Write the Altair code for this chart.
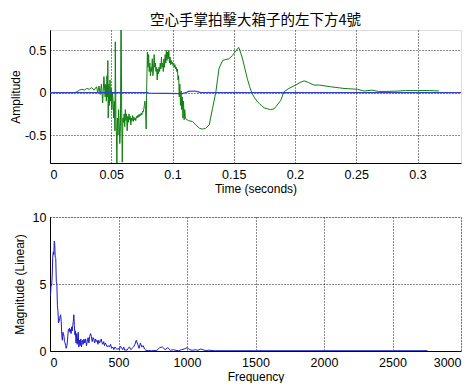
import altair as alt
import pandas as pd

# ---- time-domain signal (green) ----
green_t = [0, 0.02, 0.022, 0.024, 0.026, 0.028, 0.03, 0.032, 0.034, 0.036, 0.038, 0.039, 0.040, 0.041, 0.042, 0.043, 0.044, 0.045,
           0.0455, 0.046, 0.0465, 0.047, 0.0472, 0.0475, 0.048, 0.0485, 0.049, 0.0495, 0.050, 0.0505, 0.051, 0.0515, 0.052, 0.0525,
           0.053, 0.0533, 0.0538, 0.0542, 0.0546, 0.055, 0.0555, 0.056, 0.0565, 0.057, 0.0575, 0.058, 0.0585, 0.059, 0.0595, 0.06,
           0.0605, 0.061, 0.0615, 0.062, 0.0625, 0.063, 0.0635, 0.064, 0.0645, 0.065, 0.0655, 0.066, 0.0665, 0.067, 0.0675, 0.068,
           0.0685, 0.069, 0.0695, 0.07, 0.0705, 0.071, 0.0715, 0.072, 0.0725, 0.073, 0.0735, 0.074, 0.0745, 0.075, 0.0755, 0.076,
           0.0765, 0.077, 0.0775, 0.078, 0.0785, 0.079, 0.0795,
           0.08, 0.0805, 0.081, 0.0815, 0.082, 0.0825, 0.083, 0.0835, 0.084, 0.0845, 0.085, 0.0855, 0.086, 0.0865, 0.087, 0.0875,
           0.088, 0.0885, 0.089, 0.0895, 0.09, 0.0905, 0.091, 0.0915, 0.092, 0.0925, 0.093, 0.0935, 0.094, 0.0945, 0.095, 0.0955,
           0.096, 0.0965, 0.097, 0.0975, 0.098, 0.0985, 0.099, 0.0995, 0.1, 0.1005, 0.101, 0.1015, 0.102, 0.1025, 0.103, 0.1035,
           0.104, 0.1045, 0.105, 0.1055, 0.106, 0.1065, 0.107, 0.1075, 0.108, 0.1085, 0.109, 0.1095, 0.11, 0.1105,
           0.111, 0.113, 0.1163, 0.119, 0.122, 0.1245, 0.127, 0.13, 0.1326, 0.1354, 0.138, 0.141, 0.143, 0.146, 0.149, 0.151,
           0.154, 0.155, 0.157, 0.159, 0.161, 0.163, 0.165, 0.167, 0.169, 0.171, 0.173, 0.175, 0.1775, 0.18, 0.183, 0.1884,
           0.191, 0.195, 0.2006, 0.204, 0.2074, 0.211, 0.2156, 0.22, 0.229, 0.24, 0.251, 0.2563, 0.263, 0.268, 0.275, 0.285,
           0.29, 0.3, 0.31, 0.3175]
green_a = [0, 0, 0.01, 0.03, 0.04, 0.03, 0.05, 0.04, 0.06, 0.03, 0.07, 0.0, 0.08, -0.02, 0.1, -0.12, 0.19, -0.05,
           0.1, -0.1, 0.2, -0.05, 0.38, -0.3, 0.1, -0.15, 0.15, -0.1, 0.05, -0.2, 0.0, -0.1, -0.3, -0.1,
           -0.45, 0.6, -0.3, -0.5, -0.85, -0.3, -0.5, -0.2, -0.35, -0.6, -0.4, 1.0, -0.2, -0.82, -0.3, -0.35,
           -0.25, -0.4, -0.2, -0.33, -0.25, -0.45, -0.28, -0.35, -0.25, -0.32, -0.28, -0.38, -0.3, -0.33, -0.27, -0.34,
           -0.29, -0.32, -0.3, -0.33, -0.28, -0.3, -0.27, -0.29, -0.26, -0.28, -0.25, -0.27, -0.24, -0.26, -0.22, -0.23,
           -0.2, -0.15, -0.1, -0.2, -0.43, 0.1, 0.48,
           0.3, 0.45, 0.25, 0.35, 0.2, 0.3, 0.25, 0.4, 0.2, 0.28, 0.45, 0.3, 0.35, 0.25, 0.3, 0.15,
           0.28, 0.22, 0.3, 0.25, 0.35, 0.28, 0.42, 0.3, 0.35, 0.25, 0.4, 0.3, 0.45, 0.35, 0.5, 0.38,
           0.48, 0.4, 0.5, 0.35, 0.42, 0.33, 0.38, 0.34, 0.36, 0.32, 0.35, 0.3, 0.33, 0.28, 0.3, 0.25,
           0.28, 0.15, 0.2, -0.05, 0.1, -0.15, 0.02, -0.2, -0.05, -0.3, -0.1, -0.32, -0.2, -0.3,
           -0.31, -0.33, -0.34, -0.38, -0.42, -0.43, -0.42, -0.38, -0.19, 0.01, 0.29, 0.38, 0.39, 0.40, 0.44, 0.48,
           0.535, 0.5, 0.41, 0.29, 0.17, 0.07, -0.01, -0.06, -0.1, -0.13, -0.16, -0.18, -0.19, -0.2, -0.19, -0.09,
           0.01, 0.05, 0.09, 0.12, 0.14, 0.12, 0.09, 0.09, 0.07, 0.05, 0.04, 0.02, 0.03, 0.015, 0.015, 0.02,
           0.025, 0.025, 0.025, 0.02]

# ---- time-domain signal (blue) ----
blue_t = [0, 0.08, 0.0805, 0.108, 0.111, 0.113, 0.118, 0.121, 0.123, 0.3355]
blue_a = [0, 0, -0.005, -0.01, 0.0, 0.015, 0.02, 0.01, 0.0, 0.0]

# ---- spectrum ----
freq = [0, 4, 8, 12, 16, 20, 24, 28, 31, 34, 38, 42, 46, 50, 54, 58, 62, 66, 70, 74, 78, 82, 86, 90, 94, 98, 102, 106,
        110, 114, 118, 122, 126, 130, 134, 138, 142, 146, 150, 154, 158, 162, 166, 170, 174, 178, 182, 186, 190, 194,
        198, 202, 206, 210, 215, 220, 225, 230, 236, 242, 248, 254, 260, 266, 272, 278, 284, 290, 296, 302, 308, 314,
        320, 326, 332, 338, 344, 350, 356, 362, 368, 374, 380, 386, 392, 398, 404, 410, 418, 426, 434, 442, 450, 458,
        466, 474, 482, 490, 498, 506, 514, 522, 530, 538, 546, 554, 562, 570, 580, 590, 600, 610, 620, 630, 640, 650,
        660, 670, 680, 690, 700, 720, 740, 760, 780, 800, 820, 840, 860, 880, 900, 920, 940, 960, 980, 1000, 1020,
        1040, 1060, 1080, 1100, 1120, 1140, 1160, 1200, 1300, 1500, 2000, 2500, 2756]
mag = [4.1, 4.2, 5.0, 4.9, 5.6, 7.0, 7.4, 7.2, 8.2, 8.1, 7.0, 6.9, 5.2, 5.0, 3.4, 3.0, 2.1, 2.2, 2.4, 2.6, 2.7, 2.2, 1.2,
       0.8, 1.4, 1.3, 1.1, 0.7, 0.6, 0.4, 0.2, 0.3, 0.6, 1.1, 1.6, 1.5, 1.7, 1.4, 1.6, 1.3, 1.8, 1.5, 1.9, 2.2, 2.7,
       1.9, 1.2, 1.5, 0.6, 1.3, 0.5, 1.0, 1.4, 0.3, 0.8, 0.4, 0.9, 0.3, 0.8, 0.5, 0.9, 0.6, 0.9, 0.4, 0.7, 1.0, 0.6,
       1.1, 1.3, 1.1, 0.7, 1.0, 0.9, 0.6, 0.9, 0.7, 0.8, 0.5, 0.8, 0.6, 0.7, 0.9, 0.6, 0.5, 0.7, 0.4, 0.6, 0.5, 0.3,
       0.4, 0.3, 0.5, 0.2, 0.3, 0.1, 0.3, 0.2, 0.1, 0.2, 0.1, 0.35, 0.25, 0.1, 0.3, 0.05, 0.1, 0.05, 0.2, 0.3, 0.1,
       0.2, 0.3, 0.5, 0.8, 0.5, 0.2, 0.6, 0.3, 0.4, 0.15, 0.05, 0.03, 0.02, 0.03, 0.05, 0.25, 0.3, 0.1, 0.25, 0.05,
       0.1, 0.05, 0.02, 0.1, 0.15, 0.25, 0.1, 0.05, 0.1, 0.05, 0.15, 0.08, 0.03, 0.06, 0.02, 0.02, 0.02, 0.02, 0.02,
       0.02]

time_ticks = [0, 0.05, 0.1, 0.15, 0.2, 0.25, 0.3]
amp_ticks = [-0.5, 0, 0.5]
freq_ticks = [0, 500, 1000, 1500, 2000, 2500, 3000]
mag_ticks = [0, 5, 10]

title_text = "空心手掌拍擊大箱子的左下方4號"

df_g = pd.DataFrame({"t": green_t, "a": green_a})
df_b = pd.DataFrame({"t": blue_t, "a": blue_a})
df_f = pd.DataFrame({"f": freq, "m": mag})

FONT = "Liberation Sans"
W = 411

def ax(values, title, lpad, tpad):
    return alt.Axis(values=values, title=title, grid=True, gridDash=[1, 2], gridColor="black",
                    gridOpacity=0.9, ticks=False, labelExpr="'' + datum.value",
                    labelFont=FONT, labelFontSize=12.5, titleFont=FONT, titleFontSize=12,
                    titleFontWeight="normal", labelColor="black", titleColor="black",
                    domainColor="black", labelPadding=lpad, titlePadding=tpad)

xs_t = alt.X("t:Q", scale=alt.Scale(domain=[0, 0.3355], nice=False, zero=False),
             axis=ax(time_ticks, "Time (seconds)", 5, 3))
ys_t = alt.Y("a:Q", scale=alt.Scale(domain=[-0.83, 0.74], nice=False, zero=False),
             axis=ax(amp_ticks, "Amplitude", 4, 2))

g_line = alt.Chart(df_g).mark_line(color="#0f7f0f", strokeWidth=1, clip=True).encode(x=xs_t, y=ys_t)
b_line = alt.Chart(df_b).mark_line(color="#3040d0", strokeWidth=1.2, clip=True).encode(x=xs_t, y=ys_t)

top = alt.layer(g_line, b_line).properties(
    width=W, height=133,
    title=alt.TitleParams(title_text, font="Noto Sans CJK TC", fontSize=14.5, fontWeight="normal",
                          color="black", anchor="middle", offset=2))

xs_f = alt.X("f:Q", scale=alt.Scale(domain=[0, 3000], nice=False),
             axis=ax(freq_ticks, "Frequency", 5, 3))
ys_f = alt.Y("m:Q", scale=alt.Scale(domain=[0, 10], nice=False),
             axis=ax(mag_ticks, "Magnitude (Linear)", 4, 6))

bottom = alt.Chart(df_f).mark_line(color="#1a1acc", strokeWidth=1, clip=True).encode(
    x=xs_f, y=ys_f).properties(width=W, height=134)

chart = alt.vconcat(top, bottom, spacing=15).configure_view(
    stroke="black", strokeWidth=1).configure(
    background="white", padding={"left": 0, "top": 4, "right": 0, "bottom": 0})

chart.save("out.html", embed_options={"renderer": "svg", "actions": False})
